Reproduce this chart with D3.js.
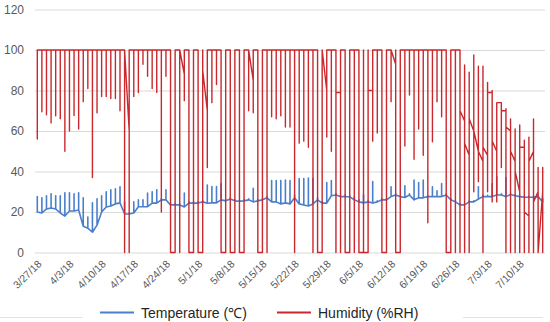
<!DOCTYPE html>
<html>
<head>
<meta charset="utf-8">
<script src="https://cdnjs.cloudflare.com/ajax/libs/d3/7.8.5/d3.min.js"></script>
<style>
  body { margin: 0; background: #fff; }
  svg { display: block; }
  text { font-family: "Liberation Sans", Arial, sans-serif; }
</style>
</head>
<body>
<div id="chart"></div>
<script>
var w = 550;
var h = 322;

// one entry per day, 3/27/18 .. 7/15/18
var days = d3.timeDay.range(new Date(2018, 2, 27), new Date(2018, 6, 16));
var fmt = d3.timeFormat("%-m/%-d/%y");
var dayLabels = days.map(fmt);

var tickLabels = ["3/27/18", "4/3/18", "4/10/18", "4/17/18", "4/24/18", "5/1/18", "5/8/18",
  "5/15/18", "5/22/18", "5/29/18", "6/5/18", "6/12/18", "6/19/18", "6/26/18", "7/3/18", "7/10/18"];
var yTicks = [0, 20, 40, 60, 80, 100, 120];

// temperature: daily low (night level) and daily high
var tempLow = [20,19.5,21.5,22,21.5,19.5,18,20.5,20.5,21,
  13,12,10,13.5,20,22.5,23,24,24.5,19,
  19,19.5,22.6,22.6,22.6,24.4,24.4,26,26,23.5,
  23.5,23.5,22.5,24.4,24.4,24.4,25,24.3,24.5,24.5,
  26,25.5,26.4,25.5,25.3,25.5,26,25,25.5,26,
  27,25,25,24,24.5,24,27,24,23.5,23,
  24,26,24.4,24.4,28,28.4,27.6,27.6,27.5,26,
  25,24.5,25,24.4,25,26,26,27.6,28.4,27.6,
  27.2,28.4,26,27,27,27.6,27.6,27.6,27.6,28.4,
  26,25,23.5,23.5,25,25,26.4,27.6,27.6,27.6,
  28.4,28.4,27.6,28.6,28,27.6,27.3,27.3,27.3,27.6,25];
var tempHigh = [27.6,27,28,29,28,28,29.5,29.5,29,29.5,
  27,17.5,24.5,26.5,28,30,31,31.5,32.5,25,
  19.5,25,26,26,29.3,30,31,26.5,31,24,
  24,24,29.3,25,25,25,25.5,33.3,32.6,32.6,
  34,26,27,26,25.8,26,26.5,31.7,26,26.5,
  27.5,35.5,35.5,35.5,35.8,35.5,28.4,36.5,36.5,36.8,
  36.5,27,25,34.5,35.5,29,28,28.4,28,27.5,
  26,28.4,25.5,35,25.5,26.5,26.5,32.5,29,28,
  33,29,35.8,34.5,35.8,28,32.5,30.5,34,28.8,
  26.5,25.5,24,24,25.5,25.5,32.5,28.2,28.2,34,
  37.4,29,37,29,28.5,28,27.8,27.8,27.8,28,26.5];

// humidity: first reading, daily min, daily max, last reading
var humOpen = [97,100,100,100,100,100,100,100,100,100,
  100,100,100,100,100,100,100,100,100,100,
  60,100,100,100,100,100,100,100,100,100,
  0,100,88,100,0,100,0,70,100,100,
  100,0,100,0,100,0,100,85,100,0,
  100,100,100,100,100,100,100,100,100,100,
  100,100,0,80,100,100,79,100,0,100,
  100,0,0,80,100,100,0,100,93,0,
  100,100,100,100,100,100,100,100,100,100,
  0,100,100,65,48,60,50,45,48,79,
  50,74,70,60,45,30,52,18,50,30,30];
var humLow = [56,69.5,68,64,67.5,66,50,60,67.7,61,
  74.5,81,37,69,77,77,76,76,70,0,
  0,77,79,93,87,81,79,20,87,0,
  0,0,75,0,0,0,0,42,74,83,
  0,0,0,0,0,0,70,69,0,0,
  0,67,66,67.5,62,62,0,54,55,52,
  0,0,0,57,50,0,0,0,0,0,
  0,0,0,55,59,0,0,74.5,0,0,
  52.6,77.8,46,61,48,14.7,54.7,74.5,67,0,
  0,0,0,0,0,30,35,0,30,25,
  25,42,0,0,0,0,0,0,0,0,0];
var humHigh = [97,100,100,100,100,100,100,100,100,100,
  100,100,100,100,100,100,100,100,100,100,
  100,100,100,100,100,100,100,100,100,100,
  100,100,100,100,100,100,100,100,100,100,
  100,100,100,100,100,100,100,100,100,100,
  100,100,100,100,100,100,100,100,100,100,
  100,100,100,100,100,100,100,100,100,100,
  100,100,100,100,100,100,100,100,100,100,
  100,100,100,100,100,100,100,100,100,100,
  100,100,100,92.6,89,97.5,92,92,84,80,
  73,74,71,66,61,63,55.5,57,66,42,42];
var humClose = [100,100,100,100,100,100,100,100,100,100,
  100,100,100,100,100,100,100,100,100,100,
  100,100,100,100,100,100,100,100,100,0,
  100,100,100,0,100,0,90,100,100,100,
  0,100,0,100,0,100,100,100,0,100,
  100,100,100,100,100,100,100,100,100,100,
  100,0,100,100,100,79,100,0,100,100,
  0,0,80,100,100,0,100,100,0,100,
  100,100,100,100,100,100,100,100,100,0,
  100,100,70,54,66,60,50,52,79,55,
  74,70,62,50,40,52,20,45,25,0,0];

var svg = d3.select("#chart")
  .append("svg")
  .attr("width", w)
  .attr("height", h);

var x = d3.scaleBand()
  .domain(dayLabels)
  .range([35, 545]);

var y = d3.scaleLinear()
  .domain([0, 120])
  .range([252.5, 9.5]);

function xc(label) { return x(label) + x.bandwidth() / 2; }

// gridlines + y labels
var yAxis = svg.append("g")
  .attr("transform", "translate(35,0)")
  .call(d3.axisLeft(y).tickValues(yTicks).tickSize(-510).tickPadding(11));
yAxis.select(".domain").remove();
yAxis.selectAll(".tick line").attr("stroke", "#d9d9d9").attr("stroke-width", 1);
yAxis.selectAll(".tick text")
  .attr("fill", "#595959")
  .style("font-size", "12px");

// x labels, rotated
var xAxis = svg.append("g")
  .attr("transform", "translate(0,252.5)")
  .call(d3.axisBottom(x).tickValues(tickLabels).tickSize(0).tickPadding(0));
xAxis.select(".domain").remove();
xAxis.selectAll(".tick text")
  .attr("fill", "#595959")
  .style("font-size", "10.5px")
  .attr("text-anchor", "end")
  .attr("dy", 0)
  .attr("transform", "translate(5,12) rotate(-45)");

// build the daily paths (all readings of one day sit on the same x)
var tempPts = [];
var humPts = [];
dayLabels.forEach(function(d, i) {
  var cx = xc(d);
  tempPts.push([cx, tempLow[i]], [cx, tempHigh[i]], [cx, tempLow[i]]);
  humPts.push([cx, humOpen[i]], [cx, humLow[i]], [cx, humHigh[i]], [cx, humClose[i]]);
});

var line = d3.line()
  .x(function(p) { return p[0]; })
  .y(function(p) { return y(p[1]); });

svg.append("path")
  .attr("d", line(tempPts))
  .attr("fill", "none")
  .attr("stroke", "#4a7fcb")
  .attr("stroke-width", 1.6)
  .attr("stroke-linejoin", "round");

svg.append("path")
  .attr("d", line(humPts))
  .attr("fill", "none")
  .attr("stroke", "#c9282d")
  .attr("stroke-width", 1.4)
  .attr("stroke-linejoin", "round");

// legend
var legend = [
  {name: "Temperature (\u2103)", color: "#4a7fcb", x: 100},
  {name: "Humidity (%RH)", color: "#c9282d", x: 277}
];
var lg = svg.selectAll(".legend")
  .data(legend)
  .enter().append("g")
  .attr("class", "legend")
  .attr("transform", function(d) { return "translate(" + d.x + ",312.5)"; });
lg.append("line")
  .attr("x1", 0).attr("x2", 34)
  .attr("stroke", function(d) { return d.color; })
  .attr("stroke-width", 2.2);
lg.append("text")
  .attr("x", 41)
  .attr("y", 5)
  .attr("fill", "#262626")
  .style("font-size", "14px")
  .text(function(d) { return d.name; });

// faint border fragments at the bottom edge
svg.append("line").attr("x1", 0).attr("x2", 83).attr("y1", 317.5).attr("y2", 317.5)
  .attr("stroke", "#e3e3e3");
svg.append("line").attr("x1", 463).attr("x2", 543).attr("y1", 317.5).attr("y2", 317.5)
  .attr("stroke", "#e3e3e3");
</script>
</body>
</html>
